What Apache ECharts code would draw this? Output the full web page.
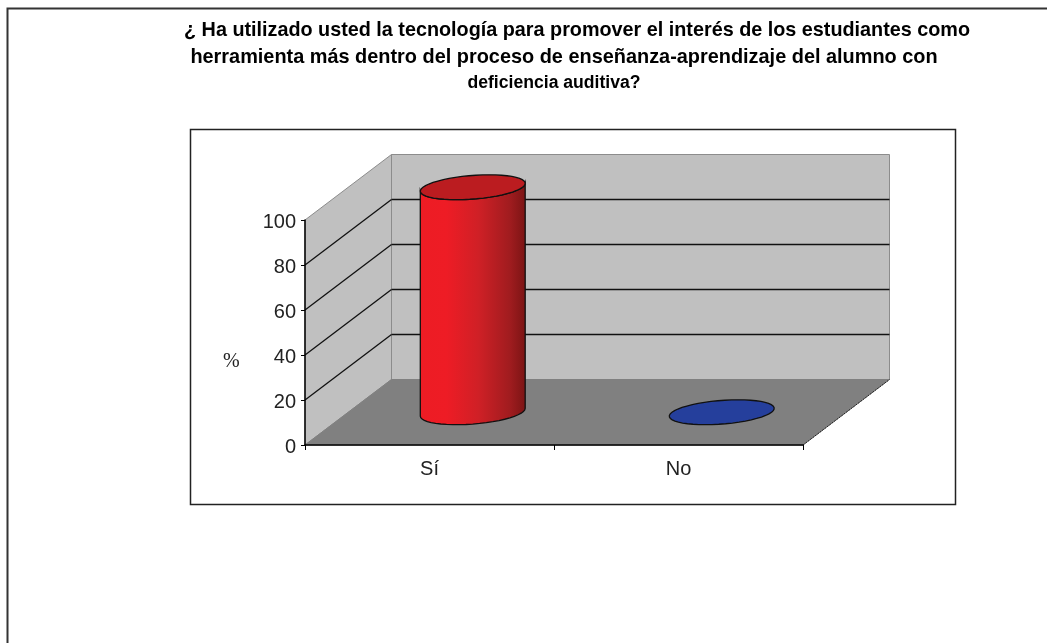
<!DOCTYPE html>
<html>
<head>
<meta charset="utf-8">
<style>html,body{margin:0;padding:0;background:#fff}#c{width:1047px;height:643px}</style>
<script src="https://cdn.jsdelivr.net/npm/echarts@6/dist/echarts.min.js"></script>
</head>
<body>
<div id="c"></div>
<script>
const categories = ['Sí', 'No'];
const values = [100, 0];
const seriesColors = ['red', 'blue'];
const yTicks = [0, 20, 40, 60, 80, 100];
const titleLines = [
  '¿ Ha utilizado usted la tecnología para promover el interés de los estudiantes como',
  'herramienta más dentro del proceso de enseñanza-aprendizaje del alumno con',
  'deficiencia auditiva?'
];
const axisUnit = '%';

const DX = 86.5, DY = -65.5;         // 3D depth offset of the back wall
const RAD_X = 0.2, RAD_D = 0.19;     // cylinder radius, as a share of category width / depth
const FONT = '"Liberation Sans", Arial, sans-serif';

const chart = echarts.init(document.getElementById('c'), null, {renderer: 'canvas'});

function renderWalls(params, api) {
  const cs = params.coordSys;
  const x0 = cs.x, x1 = cs.x + cs.width;
  const yAt = v => api.coord([0, v])[1];
  const y0 = yAt(0), yTop = yAt(100);
  const kids = [];
  const poly = (pts, fill, stroke) => ({type: 'polygon', shape: {points: pts},
    style: {fill: fill, stroke: stroke, lineWidth: 1}, silent: true});
  kids.push(poly([[x0, y0], [x0 + DX, y0 + DY], [x0 + DX, yTop + DY], [x0, yTop]], '#c0c0c0', '#8c8c8c'));
  kids.push(poly([[x0 + DX, y0 + DY], [x1 + DX, y0 + DY], [x1 + DX, yTop + DY], [x0 + DX, yTop + DY]], '#c0c0c0', '#8c8c8c'));
  kids.push(poly([[x0, y0], [x1, y0], [x1 + DX, y0 + DY], [x0 + DX, y0 + DY]], '#808080', '#808080'));
  yTicks.forEach(v => {
    if (v === 0 || v === 100) return;
    const y = yAt(v);
    const line = (ax, ay, bx, by) => ({type: 'line', shape: {x1: ax, y1: ay, x2: bx, y2: by},
      style: {stroke: '#111', lineWidth: 1.3}, silent: true});
    kids.push(line(x0, y, x0 + DX, y + DY));
    kids.push(line(x0 + DX, y + DY, x1 + DX, y + DY));
  });
  kids.push({type: 'line', shape: {x1: x1, y1: y0, x2: x1 + DX, y2: y0 + DY},
    style: {stroke: '#222', lineWidth: 1, lineDash: [2, 1]}, silent: true});
  return {type: 'group', children: kids};
}

function renderCylinder(params, api) {
  const cat = api.value(0), val = api.value(1);
  const band = api.size([1, 0])[0];
  const base = api.coord([cat, 0]), top = api.coord([cat, val]);
  const cx = base[0] + DX / 2, by = base[1] + DY / 2, ty = top[1] + DY / 2;
  const A = band * RAD_X, Bx = DX * RAD_D, By = DY * RAD_D;
  const pt = (t, yc) => [cx + A * Math.cos(t) + Bx * Math.sin(t), yc + By * Math.sin(t)];
  const tR = Math.atan2(Bx, A);
  const N = 48;
  const cap = [], front = [];
  for (let i = 0; i < N; i++) cap.push(pt(i / N * 2 * Math.PI, ty));
  const isRed = seriesColors[params.dataIndex] === 'red';
  const kids = [];
  if (val > 0) {
    for (let i = 0; i <= N / 2; i++) front.push(pt(tR - i / (N / 2) * Math.PI, by));
    const backUp = [];
    for (let i = N / 2; i >= 0; i--) backUp.push(pt(tR - i / (N / 2) * Math.PI, ty));
    kids.push({type: 'polygon', shape: {points: front.concat(backUp)}, silent: true,
      style: {
        stroke: '#111', lineWidth: 1.3,
        fill: new echarts.graphic.LinearGradient(0, 0, 1, 0, [
          {offset: 0, color: '#ed1c24'}, {offset: 0.25, color: '#ee1c25'},
          {offset: 0.55, color: '#d02026'}, {offset: 0.85, color: '#a01c1f'},
          {offset: 1, color: '#7a1414'}
        ])
      }});
  }
  kids.push({type: 'polygon', shape: {points: cap}, silent: true,
    style: {fill: isRed ? '#bb1c20' : '#253f9c', stroke: '#111', lineWidth: 1.3}});
  return {type: 'group', children: kids};
}

function titleItem(text, centerX, top, size) {
  return {
    text: text, left: centerX, top: top, textAlign: 'center', padding: 0,
    textStyle: {fontFamily: FONT, fontWeight: 'bold', fontSize: size, color: '#000', lineHeight: 18}
  };
}

chart.setOption({
  animation: false,
  backgroundColor: '#fff',
  title: [
    titleItem(titleLines[0], 577, 22, 19.8),
    titleItem(titleLines[1], 564, 49, 19.9),
    titleItem(titleLines[2], 554, 74, 17.6)
  ],
  grid: {left: 305, right: 244, top: 220, bottom: 198, containLabel: false},
  xAxis: {
    type: 'category', data: categories, z: 10,
    axisLine: {lineStyle: {color: '#000', width: 1.5}},
    axisTick: {show: true, length: 5, lineStyle: {color: '#000', width: 1}},
    axisLabel: {fontFamily: FONT, fontSize: 20, color: '#222', margin: 14}
  },
  yAxis: {
    type: 'value', min: 0, max: 100, interval: 20, z: 10,
    axisLine: {show: true, lineStyle: {color: '#000', width: 1.5}},
    axisTick: {show: true, length: 4, lineStyle: {color: '#000', width: 1}},
    axisLabel: {
      margin: 9, formatter: '{v|{value}}',
      rich: {v: {fontFamily: FONT, fontSize: 20, color: '#222', padding: [4, 0, 0, 0]}}
    },
    splitLine: {show: false}
  },
  graphic: [
    {type: 'polyline', silent: true, z: -1,
     shape: {points: [[7.5, 643], [7.5, 8.5], [1047, 8.5]]},
     style: {fill: 'none', stroke: '#333', lineWidth: 2}},
    {type: 'rect', silent: true, z: -1,
     shape: {x: 190.5, y: 129.5, width: 765, height: 375},
     style: {fill: '#fff', stroke: '#222', lineWidth: 1.5}},
    {type: 'text', silent: true, left: 223, top: 352,
     style: {text: axisUnit, font: '20px "Liberation Serif", serif', fill: '#222'}}
  ],
  series: [
    {type: 'custom', name: 'walls', z: 1, silent: true, clip: false,
     renderItem: renderWalls, data: [[0, 0]], encode: {x: 0, y: 1}},
    {type: 'custom', name: 'cylinders', z: 3, silent: true, clip: false,
     renderItem: renderCylinder,
     data: categories.map((c, i) => [i, values[i]]), encode: {x: 0, y: 1}}
  ]
});
</script>
</body>
</html>
